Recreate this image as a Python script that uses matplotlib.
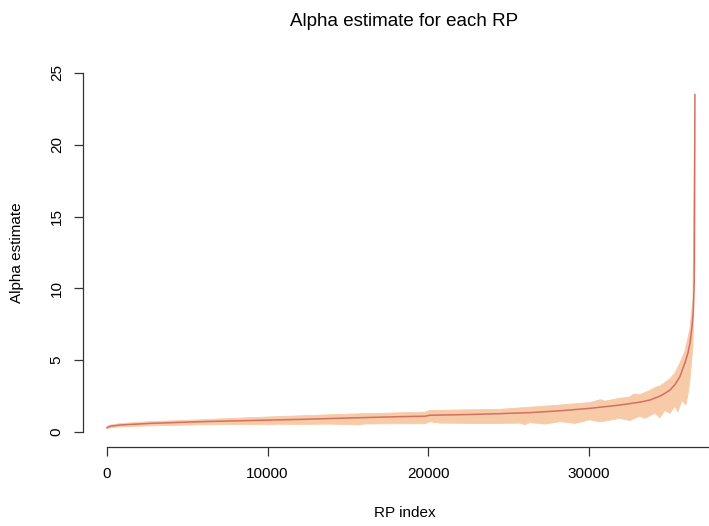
import numpy as np
import matplotlib
matplotlib.use('Agg')
import matplotlib.pyplot as plt

plt.rcParams['font.family'] = ['Liberation Sans', 'DejaVu Sans']

# estimacion de alpha para cada RP (ordenado)
rp_idx = [1, 190, 810, 2680, 5790, 8900, 12010, 15120, 18240, 19790, 20100,
          22590, 24460, 26330, 28200, 30060, 31930, 32552, 33174, 33800,
          34419, 34731, 35042, 35353, 35660, 35970, 36162, 36290, 36411,
          36492, 36554, 36598]
alpha_mid = [0.30, 0.40, 0.49, 0.60, 0.72, 0.80, 0.88, 0.98, 1.07, 1.10, 1.17,
             1.22, 1.28, 1.35, 1.48, 1.65, 1.88, 1.98, 2.08, 2.23,
             2.50, 2.70, 2.92, 3.30, 3.85, 4.8, 5.5, 6.2, 7.3,
             8.3, 10.5, 23.5]

# borde superior del intervalo
up_idx = [1, 190, 810, 2680, 5790, 8900, 12010, 15120, 18240, 19790, 20100,
          24460, 28200, 30060, 30700, 31000, 31930, 32552, 32800, 33170,
          33800, 34108, 34419, 35042, 35353, 35660, 35970, 36290, 36474,
          36598]
alpha_up = [0.36, 0.48, 0.58, 0.72, 0.85, 1.0, 1.13, 1.25, 1.34, 1.38, 1.50,
            1.58, 1.88, 2.05, 2.25, 2.15, 2.35, 2.45, 2.65, 2.6,
            2.9, 3.1, 3.2, 3.7, 4.1, 4.8, 5.6, 7.2, 9.3,
            23.5]

# borde inferior (con los picos hacia abajo)
lo_idx = [1, 190, 810, 2680, 5790, 8900, 10145, 10456, 12010, 13880, 15747,
          16058, 18240, 19790, 19979, 20100, 20726, 22593, 24460, 25705,
          26016, 26328, 27261, 28200, 29128, 30060, 30684, 31930, 32552,
          33174, 33485, 34108, 34419, 34731, 35042, 35353, 35540, 35789,
          36038, 36162, 36287, 36474, 36598]
alpha_lo = [0.22, 0.30, 0.36, 0.43, 0.50, 0.53, 0.50, 0.54, 0.53, 0.55, 0.50,
            0.56, 0.58, 0.58, 0.66, 0.72, 0.62, 0.60, 0.60, 0.62,
            0.50, 0.66, 0.55, 0.72, 0.60, 0.85, 0.70, 0.95, 0.80,
            1.10, 0.95, 1.30, 1.00, 1.50, 1.30, 1.80, 1.40, 2.20,
            1.90, 2.60, 3.60, 6.0, 12.0]

xticks = [0, 10000, 20000, 30000]
yticks = [0, 5, 10, 15, 20, 25]

fig = plt.figure(figsize=(7.09, 5.26), dpi=100)
ax = fig.add_axes([0.1166, 0.1508, 0.9257, 0.7378])

# banda (poligono arriba + abajo)
poly_x = up_idx + lo_idx[::-1]
poly_y = alpha_up + alpha_lo[::-1]
ax.fill(poly_x, poly_y, color='#f8cba8', lw=0.6, ec='#f8cba8')
ax.plot(rp_idx, alpha_mid, color='#c43c3c', alpha=0.65, lw=1.1)

ax.set_xlim(-1512, 39340)
ax.set_ylim(-1.02, 26.0)
ax.set_xticks(xticks)
ax.set_yticks(yticks)
ax.set_xticklabels([str(t) for t in xticks])
ax.set_yticklabels([str(t) for t in yticks], rotation=90, va='center')

for s in ['top', 'right']:
    ax.spines[s].set_visible(False)
ax.spines['left'].set_bounds(0, 25)
ax.spines['bottom'].set_bounds(0, 39340)
for s in ['left', 'bottom']:
    ax.spines[s].set_linewidth(0.9)
    ax.spines[s].set_color('#333333')
ax.tick_params(axis='both', direction='out', length=6.6, width=0.9,
               color='#333333', labelsize=11)
ax.tick_params(axis='x', pad=8)
ax.tick_params(axis='y', pad=7)
ax.patch.set_alpha(0)

fig.text(404 / 709, 1 - 22 / 526, 'Alpha estimate for each RP', ha='center',
         va='center', fontsize=13.5)
fig.text(405 / 709, 1 - 513 / 526, 'RP index', ha='center', va='center',
         fontsize=11)
fig.text(17 / 709, 1 - 253 / 526, 'Alpha estimate', ha='center', va='center',
         rotation=90, fontsize=11)

fig.savefig('out.png', dpi=100)
